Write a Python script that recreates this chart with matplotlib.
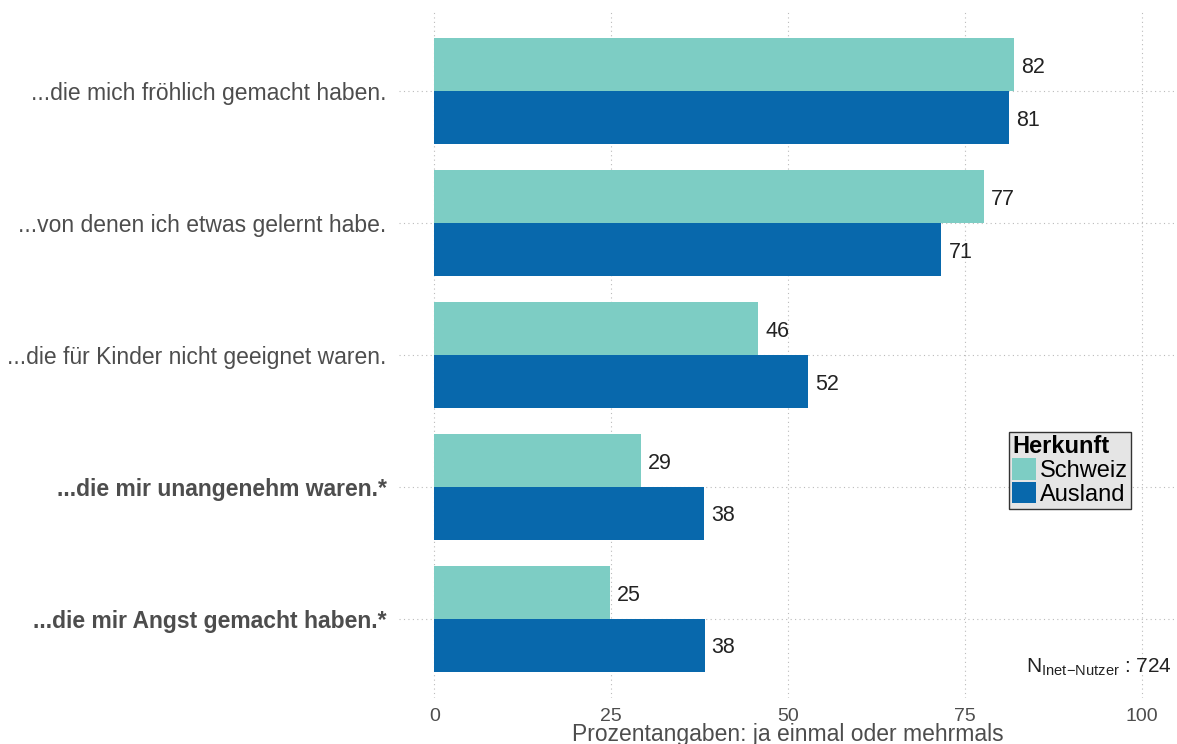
import matplotlib.pyplot as plt
import numpy as np

plt.rcParams['font.family'] = ['Liberation Sans', 'DejaVu Sans']
plt.rcParams['mathtext.fontset'] = 'custom'
plt.rcParams['mathtext.rm'] = 'Liberation Sans'
plt.rcParams['mathtext.it'] = 'Liberation Sans:italic'
plt.rcParams['mathtext.bf'] = 'Liberation Sans:bold'

# ===============================
# dados
# ===============================
kategorien = [
    "...die mich fröhlich gemacht haben.",
    "...von denen ich etwas gelernt habe.",
    "...die für Kinder nicht geeignet waren.",
    "...die mir unangenehm waren.*",
    "...die mir Angst gemacht haben.*",
]
fett = [False, False, False, True, True]
schweiz = [81.9, 77.7, 45.8, 29.2, 24.8]
ausland = [81.2, 71.7, 52.8, 38.1, 38.2]
schweiz_lbl = ["82", "77", "46", "29", "25"]
ausland_lbl = ["81", "71", "52", "38", "38"]
x_ticks = [0, 25, 50, 75, 100]
n_gesamt = 724

col_ch = "#7dcdc4"
col_aus = "#0868ac"

fig = plt.figure(figsize=(11.77, 7.44), dpi=100)
ax = fig.add_axes([399 / 1177, 1 - 698 / 744, 778 / 1177, 686 / 744])

y = np.arange(len(kategorien))
h = 0.4
ax.barh(y - h / 2, schweiz, height=h, color=col_ch, zorder=2, label="Schweiz")
ax.barh(y + h / 2, ausland, height=h, color=col_aus, zorder=2, label="Ausland")

# Werte neben den Balken
for i in range(len(kategorien)):
    ax.text(schweiz[i] + 1.0, y[i] - h / 2 + 0.02, schweiz_lbl[i], va="center", ha="left",
            fontsize=15.5, color="#222222")
    ax.text(ausland[i] + 1.0, y[i] + h / 2 + 0.02, ausland_lbl[i], va="center", ha="left",
            fontsize=15.5, color="#222222")

ax.set_xlim(-5, 105)
ax.set_ylim(len(kategorien) - 0.4, -0.6)
ax.set_xticks(x_ticks)
ax.set_xticklabels([str(t) for t in x_ticks], fontsize=14, color="#4d4d4d")
ax.set_yticks(y)
ax.set_yticklabels(kategorien, fontsize=16.5, color="#4d4d4d")
for lbl, b in zip(ax.get_yticklabels(), fett):
    if b:
        lbl.set_fontweight("bold")
ax.tick_params(axis="both", length=0)
ax.tick_params(axis="y", pad=9)
ax.tick_params(axis="x", pad=7)
ax.grid(True, linestyle=(0, (1, 3)), color="#bbbbbb", linewidth=0.8, zorder=0)
for s in ax.spines.values():
    s.set_visible(False)

ax.set_xlabel("Prozentangaben: ja einmal oder mehrmals", fontsize=16.5, color="#4d4d4d",
              labelpad=-1)

leg = ax.legend(title="Herkunft", loc="upper left", bbox_to_anchor=(0.784, 0.388),
                fontsize=17, title_fontsize=17, frameon=True, fancybox=False,
                handlelength=1.0, handleheight=1.0, handletextpad=0.15,
                borderpad=0.15, labelspacing=0.0, borderaxespad=0)
leg.get_title().set_fontweight("bold")
leg._legend_box.align = "left"
frame = leg.get_frame()
frame.set_facecolor("#e5e5e5")
frame.set_edgecolor("#333333")
frame.set_linewidth(1.0)
frame.set_alpha(1)

ax.text(0.993, 0.044, r"N$_{\mathrm{Inet\!-\!Nutzer}}$ : " + str(n_gesamt),
        transform=ax.transAxes, ha="right", va="center", fontsize=15, color="#222222")

fig.savefig("out.png", dpi=100)
